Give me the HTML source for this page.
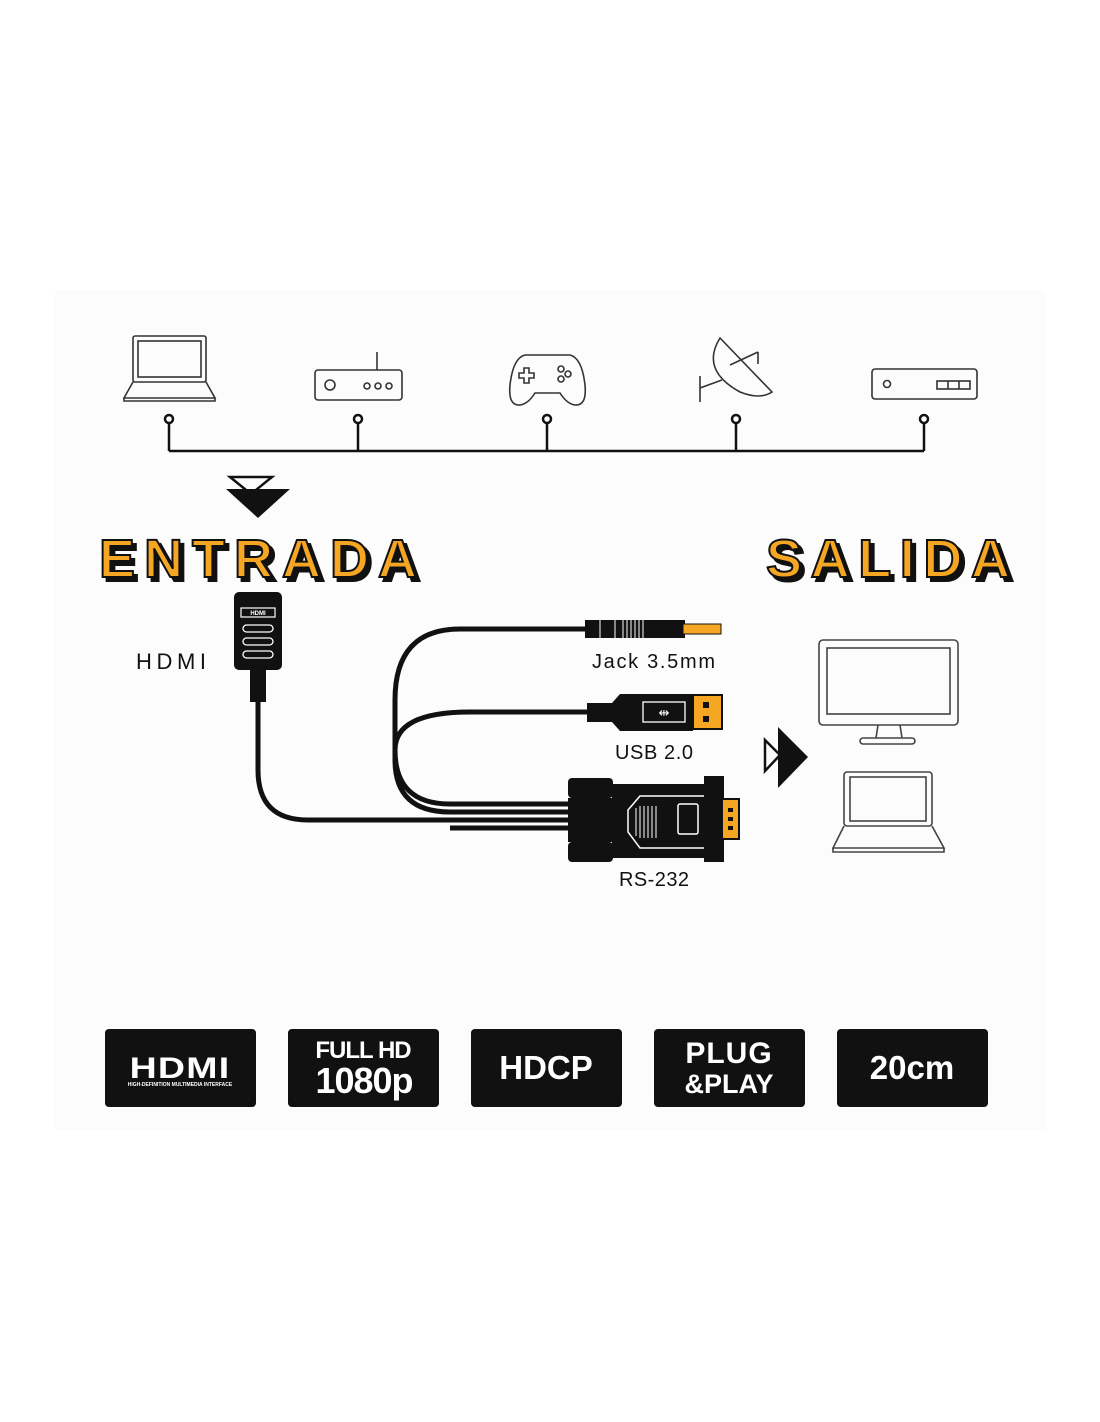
<!DOCTYPE html>
<html><head><meta charset="utf-8"><style>
html,body{margin:0;padding:0;background:#fff}
svg{display:block}
text{font-family:"Liberation Sans",sans-serif}
</style></head><body>
<svg width="1100" height="1422" viewBox="0 0 1100 1422" xmlns="http://www.w3.org/2000/svg">
<rect width="1100" height="1422" fill="#fff"/>
<rect x="55" y="290" width="990" height="840" fill="#fcfcfc"/>
<g fill="none" stroke="#333" stroke-width="1.6">
 <rect x="133" y="336" width="73" height="46" rx="2"/><rect x="138" y="341" width="63" height="36"/>
 <path d="M133 382 L124 398 L215 398 L206 382"/><path d="M124 398 L124 401 L215 401 L215 398"/>
 <rect x="315" y="370" width="87" height="30" rx="3"/><line x1="377" y1="352" x2="377" y2="370"/>
 <circle cx="330" cy="385" r="5"/><circle cx="367" cy="386" r="3"/><circle cx="378" cy="386" r="3"/><circle cx="389" cy="386" r="3"/>
 <path d="M525 355 L570 355 Q582 358 585 385 Q587 406 575 405 Q567 404 560 393 L535 393 Q528 404 520 405 Q508 406 510 385 Q513 358 525 355Z"/>
 <path d="M524 368h5v5h5v5h-5v5h-5v-5h-5v-5h5z"/>
 <circle cx="561" cy="369" r="3"/><circle cx="568" cy="374" r="3"/><circle cx="561" cy="379" r="3"/>
 <path d="M720 338 Q700 370 740 392 Q760 400 772 392 Z"/><line x1="730" y1="365" x2="758" y2="352"/><line x1="758" y1="352" x2="758" y2="364"/>
 <path d="M700 376 L700 402 M700 388 L722 380"/>
 <rect x="872" y="369" width="105" height="30" rx="3"/><circle cx="887" cy="384" r="3.5"/>
 <rect x="937" y="381" width="33" height="8"/><line x1="948" y1="381" x2="948" y2="389"/><line x1="959" y1="381" x2="959" y2="389"/>
</g>
<g fill="#fff" stroke="#111" stroke-width="2.5">
 <path d="M169 451 H924" fill="none"/>
 <path d="M169 423 V451 M358 423 V451 M547 423 V451 M736 423 V451 M924 423 V451" fill="none"/>
 <circle cx="169" cy="419" r="4"/><circle cx="358" cy="419" r="4"/><circle cx="547" cy="419" r="4"/><circle cx="736" cy="419" r="4"/><circle cx="924" cy="419" r="4"/>
</g>
<path d="M230 477 L272 477 L251 494 Z" fill="none" stroke="#111" stroke-width="2.5"/>
<path d="M226 489 L290 489 L258 518 Z" fill="#111"/>
<g font-weight="bold" font-size="54" font-family="Liberation Sans" stroke="#111" stroke-width="2">
 <text x="103" y="581" fill="#111" textLength="318" lengthAdjust="spacing">ENTRADA</text>
 <text x="99" y="577" fill="#f5a623" textLength="318" lengthAdjust="spacing">ENTRADA</text>
 <text x="770" y="581" fill="#111" textLength="244" lengthAdjust="spacing">SALIDA</text>
 <text x="766" y="577" fill="#f5a623" textLength="244" lengthAdjust="spacing">SALIDA</text>
</g>
<g fill="none" stroke="#111" stroke-width="5">
 <path d="M258 700 V770 Q258 820 308 820 H575"/>
 <path d="M585 629 H460 Q395 629 395 700 V760 Q395 812 450 812 H575"/>
 <path d="M588 712 H470 Q395 712 395 750 Q395 804 450 804 H575"/>
 <path d="M450 828 H575"/>
</g>
<rect x="250" y="668" width="16" height="34" fill="#111"/>
<rect x="234" y="592" width="48" height="78" rx="5" fill="#111"/>
<rect x="241" y="608" width="34" height="9" fill="none" stroke="#fff" stroke-width="1.2"/>
<text x="258" y="615" font-size="6" fill="#fff" text-anchor="middle" font-weight="bold">HDMI</text>
<g fill="none" stroke="#fff" stroke-width="1.3"><rect x="243" y="625" width="30" height="7" rx="3.5"/><rect x="243" y="638" width="30" height="7" rx="3.5"/><rect x="243" y="651" width="30" height="7" rx="3.5"/></g>
<text x="136" y="669" font-size="22" fill="#111" textLength="70">HDMI</text>
<rect x="585" y="620" width="100" height="18" fill="#111"/>
<g stroke="#fff" stroke-width="1"><line x1="600" y1="620" x2="600" y2="638"/><line x1="615" y1="620" x2="615" y2="638"/><line x1="623" y1="620" x2="623" y2="638"/><line x1="627" y1="620" x2="627" y2="638"/><line x1="631" y1="620" x2="631" y2="638"/><line x1="635" y1="620" x2="635" y2="638"/><line x1="639" y1="620" x2="639" y2="638"/><line x1="643" y1="620" x2="643" y2="638"/></g>
<rect x="683" y="624" width="38" height="10" fill="#f5a623" stroke="#111"/>
<text x="592" y="668" font-size="20" fill="#111" textLength="123">Jack 3.5mm</text>
<path d="M587 703 H612 L620 694 H693 V731 H620 L612 722 H587Z" fill="#111"/>
<rect x="643" y="702" width="42" height="20" fill="none" stroke="#fff" stroke-width="1.3"/>
<text x="664" y="717" font-size="13" fill="#fff" text-anchor="middle">⇹</text>
<rect x="693" y="695" width="29" height="34" fill="#f5a623" stroke="#111" stroke-width="2"/>
<rect x="703" y="702" width="6" height="6" fill="#111"/><rect x="703" y="716" width="6" height="6" fill="#111"/>
<text x="615" y="759" font-size="20" fill="#111" textLength="78">USB 2.0</text>
<rect x="568" y="778" width="45" height="20" rx="4" fill="#111"/>
<rect x="568" y="842" width="45" height="20" rx="4" fill="#111"/>
<rect x="568" y="798" width="50" height="44" fill="#111"/>
<path d="M612 784 H705 V858 H612Z" fill="#111"/>
<path d="M640 796 H705 V848 H640 L628 832 V810Z" fill="none" stroke="#fff" stroke-width="1.5"/>
<rect x="678" y="804" width="20" height="30" rx="2" fill="none" stroke="#fff" stroke-width="1.5"/>
<g stroke="#fff" stroke-width="1"><line x1="636" y1="808" x2="636" y2="836"/><line x1="640" y1="806" x2="640" y2="838"/><line x1="644" y1="806" x2="644" y2="838"/><line x1="648" y1="806" x2="648" y2="838"/><line x1="652" y1="806" x2="652" y2="838"/><line x1="656" y1="806" x2="656" y2="838"/></g>
<rect x="704" y="776" width="20" height="86" fill="#111"/>
<rect x="722" y="799" width="17" height="40" fill="#f5a623" stroke="#111" stroke-width="2"/>
<g fill="#111"><rect x="728" y="808" width="5" height="4"/><rect x="728" y="817" width="5" height="4"/><rect x="728" y="826" width="5" height="4"/></g>
<text x="619" y="886" font-size="20" fill="#111" textLength="70">RS-232</text>
<path d="M765 740 L765 771 L780 755Z" fill="none" stroke="#111" stroke-width="2.5"/>
<path d="M778 727 L808 757 L778 788Z" fill="#111"/>
<g fill="none" stroke="#444" stroke-width="1.6">
 <rect x="819" y="640" width="139" height="85" rx="4"/><rect x="827" y="648" width="123" height="66"/>
 <path d="M878 725 L876 738 M900 725 L902 738"/><rect x="860" y="738" width="55" height="6" rx="3"/>
 <rect x="844" y="772" width="88" height="54" rx="3"/><rect x="850" y="777" width="76" height="44"/>
 <path d="M844 826 L833 848 L944 848 L932 826"/><path d="M833 848 V852 H944 V848"/>
</g>
<g fill="#111">
 <rect x="105" y="1029" width="151" height="78" rx="4"/>
 <rect x="288" y="1029" width="151" height="78" rx="4"/>
 <rect x="471" y="1029" width="151" height="78" rx="4"/>
 <rect x="654" y="1029" width="151" height="78" rx="4"/>
 <rect x="837" y="1029" width="151" height="78" rx="4"/>
</g>
<g fill="#fff" font-weight="bold" text-anchor="middle">
 <text x="180" y="1078" font-size="30" letter-spacing="1" transform="translate(180 0) scale(1.25 1) translate(-180 0)">HDMI</text>
 <text x="180" y="1086" font-size="5">HIGH-DEFINITION MULTIMEDIA INTERFACE</text>
 <text x="363" y="1058" font-size="24" letter-spacing="-1">FULL HD</text>
 <text x="364" y="1093" font-size="36" letter-spacing="-1">1080p</text>
 <text x="546" y="1079" font-size="33">HDCP</text>
 <text x="729" y="1063" font-size="30" letter-spacing="1">PLUG</text>
 <text x="729" y="1093" font-size="27">&amp;PLAY</text>
 <text x="912" y="1079" font-size="33">20cm</text>
</g>
</svg>
</body></html>
